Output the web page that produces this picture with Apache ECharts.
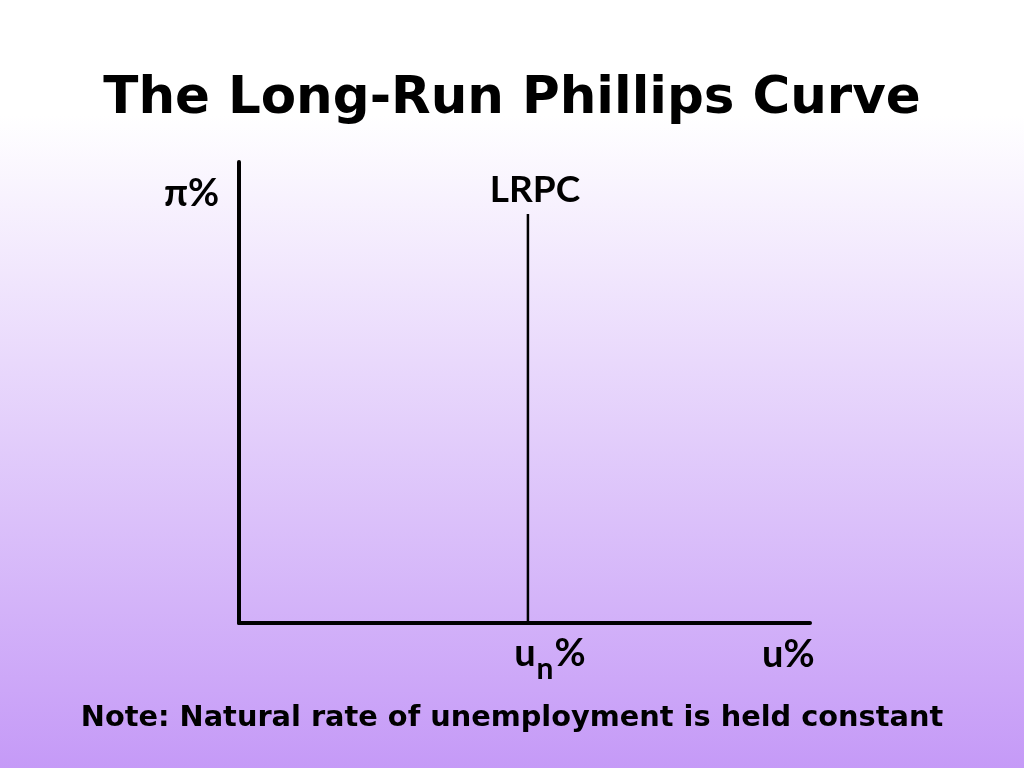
<!DOCTYPE html>
<html><head><meta charset="utf-8">
<style>html,body{margin:0;padding:0;width:1024px;height:768px;overflow:hidden}
#c{width:1024px;height:768px}</style>
<script src="https://cdn.jsdelivr.net/npm/echarts@6/dist/echarts.min.js"></script>
</head><body><div id="c"></div>
<script>
// Data
const titleText = 'The Long-Run Phillips Curve';
const noteText = 'Note: Natural rate of unemployment is held constant';
const xAxisLabel = 'u%';
const yAxisLabel = 'π%';
const curveName = 'LRPC';
const naturalRate = 50.6;          // position of u_n on the x scale (0-100)
const lrpcX = [naturalRate, naturalRate];
const lrpcY = [0, 88.7];

const chart = echarts.init(document.getElementById('c'));
const font = 'Lato';
const wide = '"DejaVu Sans"';
chart.setOption({
  backgroundColor: {
    type: 'linear', x: 0, y: 0, x2: 0, y2: 1,
    colorStops: [
      {offset: 0, color: '#ffffff'},
      {offset: 0.15, color: '#ffffff'},
      {offset: 1, color: '#c59af7'}
    ]
  },
  animation: false,
  grid: {left: 239, right: 214, top: 162, bottom: 145},
  xAxis: {
    type: 'value', min: 0, max: 100,
    axisLine: {show: true, lineStyle: {color: '#000', width: 4}},
    axisTick: {show: false}, axisLabel: {show: false}, splitLine: {show: false}
  },
  yAxis: {
    type: 'value', min: 0, max: 100,
    axisLine: {show: true, lineStyle: {color: '#000', width: 4}},
    axisTick: {show: false}, axisLabel: {show: false}, splitLine: {show: false}
  },
  graphic: [
    {type: 'text', left: 'center', top: 74, style: {text: titleText, font: 'bold 51.5px ' + wide, fill: '#000'}},
    {type: 'text', left: 'center', top: 704, style: {text: noteText, font: 'bold 28.8px ' + wide, fill: '#000'}},
    {type: 'text', left: 164, top: 175, style: {text: yAxisLabel, font: 'bold 38px ' + font, fill: '#000'}},
    {type: 'text', left: 762, top: 636, style: {text: xAxisLabel, font: 'bold 38px ' + font, fill: '#000'}}
  ],
  series: [{
    type: 'line', name: curveName,
    data: lrpcX.map((x, i) => [x, lrpcY[i]]),
    symbol: 'none',
    lineStyle: {color: '#000', width: 2.5},
    label: {show: false},
    markPoint: {
      symbol: 'circle', symbolSize: 0,
      data: [
        {coord: [lrpcX[1], lrpcY[1]], label: {show: true, position: 'top', distance: 6, offset: [7, 0],
          formatter: curveName, color: '#000', fontFamily: font, fontWeight: 'bold', fontSize: 37}},
        {coord: [lrpcX[0], lrpcY[0]], label: {show: true, position: 'bottom', distance: 12, offset: [22, 0],
          formatter: '{u|u}{s|n}{u|%}',
          rich: {
            u: {color: '#000', fontFamily: font, fontWeight: 'bold', fontSize: 38, verticalAlign: 'bottom', padding: [0, 0, 11, 0]},
            s: {color: '#000', fontFamily: font, fontWeight: 'bold', fontSize: 30, verticalAlign: 'bottom', padding: [0, 1, 0, 1]}
          }}}
      ]
    }
  }]
});
</script></body></html>
